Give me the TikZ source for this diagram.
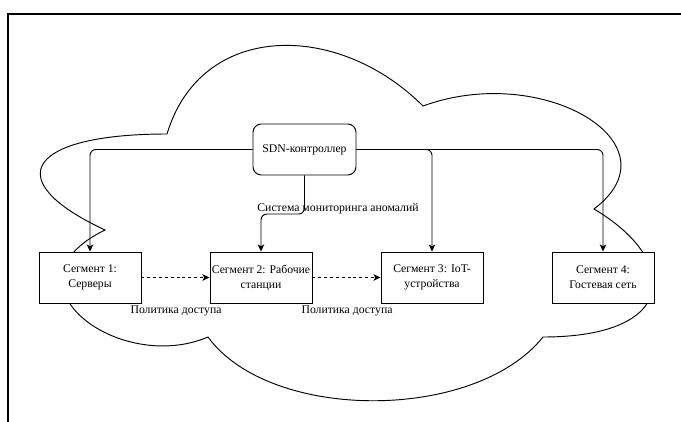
\documentclass[tikz,border=0pt]{standalone}
\usepackage{fontspec}
\setmainfont{Liberation Serif}
\usetikzlibrary{arrows.meta,backgrounds}
\tikzset{
  seg/.style={draw, fill=white, line width=0.8pt, minimum width=3.06cm, minimum height=1.53cm,
    inner sep=0pt, align=center, font=\fontsize{10}{12.75}\selectfont},
  ctrl/.style={seg, rounded corners=0.25cm, minimum width=3.09cm},
  lbl/.style={inner sep=0pt, font=\fontsize{10}{12.75}\selectfont},
  link/.style={line width=0.8pt, rounded corners=5pt, -{Stealth[length=6pt,width=5.5pt,inset=1.5pt]}},
  pol/.style={link, dash pattern=on 2.5pt off 2.5pt},
}
\begin{document}
\begin{tikzpicture}[x=0.03cm, y=-0.03cm]
  \useasboundingbox (0,0) rectangle (681,421);
  % frame
  \draw[line width=1.7pt] (8,430) -- (8,14) -- (690,14);

  \node[ctrl] (sdn) at (304.5,149.5) {SDN-контроллер};
  \foreach \i/\x/\t in {1/90/{Сегмент 1:\\Серверы}, 2/261/{Сегмент 2: Рабочие\\станции},
      3/432/{Сегмент 3: IoT-\\устройства}, 4/603/{Сегмент 4:\\Гостевая сеть}}
    \node[seg] (b\i) at (\x,277.5) {\t};

  % cloud
  \begin{scope}[on background layer]
    \draw[line width=0.8pt] (167,134) .. controls (30,134) and (-4,179) .. (105,230)
      .. controls (-4,283) and (119,375) .. (208,337)
      .. controls (270,422) and (475,422) .. (543,337)
      .. controls (680,337) and (680,260) .. (594,209)
      .. controls (680,144) and (543,62) .. (423,106)
      .. controls (338,21) and (201,21) .. cycle;
  \end{scope}

  % controller links
  \draw[link] (sdn.west) -| (b1.north);
  \draw[link] (sdn.east) -| (b3.north);
  \draw[link] (sdn.east) -| (b4.north);
  \coordinate (mon) at (261,214);
  \draw[link] (sdn.south) |- (mon) -- (b2.north);
  \node[lbl] (monlbl) at (338,209) {Система мониторинга аномалий};

  % access policy
  \draw[pol] (b1.east) -- (b2.west);
  \draw[pol] (b2.east) -- (b3.west);
  \node[lbl] (pol1) at (176,311) {Политика доступа};
  \node[lbl] (pol2) at (347,311) {Политика доступа};
\end{tikzpicture}
\end{document}
